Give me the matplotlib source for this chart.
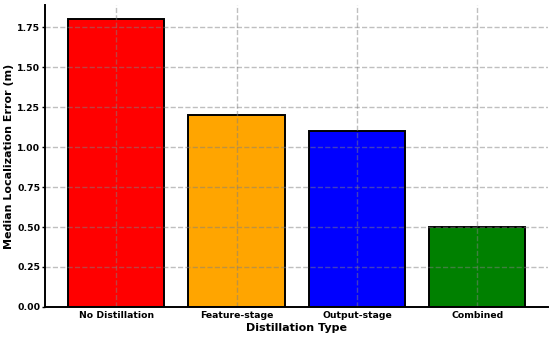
import matplotlib
matplotlib.use("Agg")
import matplotlib.pyplot as plt

# Data
methods = ["No Distillation", "Feature-stage", "Output-stage", "Combined"]
errors = [1.8, 1.2, 1.1, 0.5]
colors = ["red", "orange", "blue", "green"]

fig, ax = plt.subplots(figsize=(5.5, 3.38), dpi=100)
ax.bar(methods, errors, color=colors, edgecolor="black", linewidth=1.4, width=0.8)

ax.set_xlabel("Distillation Type", fontsize=8, fontweight="bold", labelpad=2)
ax.set_ylabel("Median Localization Error (m)", fontsize=8, fontweight="bold", labelpad=2)
ax.set_ylim(0, 1.89)
ax.set_yticks([0, 0.25, 0.5, 0.75, 1.0, 1.25, 1.5, 1.75])
for lbl in ax.get_xticklabels() + ax.get_yticklabels():
    lbl.set_fontweight("bold")
    lbl.set_fontsize(6.7)
ax.tick_params(axis="x", length=0, pad=3)
ax.tick_params(axis="y", length=2.5, width=1, pad=1)

ax.grid(True, linestyle="--", color="gray", alpha=0.5, linewidth=1)
ax.spines["top"].set_visible(False)
ax.spines["right"].set_visible(False)
ax.spines["left"].set_linewidth(1.4)
ax.spines["bottom"].set_linewidth(1.4)

fig.subplots_adjust(left=0.082, right=0.997, top=0.985, bottom=0.092)
fig.savefig("out.png")
